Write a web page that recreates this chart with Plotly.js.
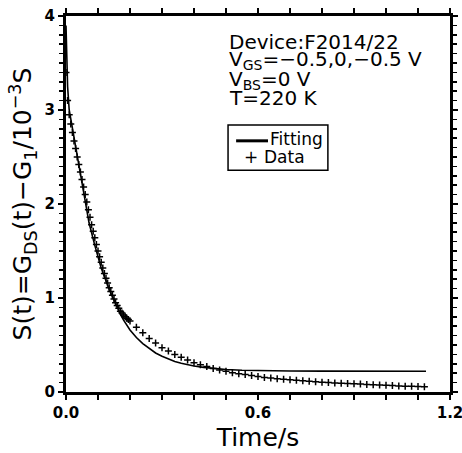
<!DOCTYPE html>
<html>
<head>
<meta charset="utf-8">
<script src="https://cdn.plot.ly/plotly-3.0.1.min.js"></script>
<style>html,body{margin:0;padding:0;background:#fff;}#chart{width:462px;height:453px;}</style>
</head>
<body>
<div id="chart"></div>
<script>
// Fitting curve (time in s, S in 1e-3 S)
const fitTime = [0, 0.002, 0.005, 0.01, 0.016, 0.025, 0.04, 0.055, 0.072, 0.09, 0.11, 0.135, 0.16, 0.17, 0.18, 0.19, 0.20, 0.21, 0.22, 0.24, 0.26, 0.28, 0.30, 0.32, 0.34, 0.36, 0.38, 0.40, 0.43, 0.46, 0.50, 0.55, 0.60, 0.70, 0.80, 1.00, 1.125];
const fitS    = [3.9, 3.6, 3.25, 3.0, 2.88, 2.7, 2.42, 2.12, 1.80, 1.56, 1.32, 1.09, 0.89, 0.825, 0.765, 0.71, 0.66, 0.62, 0.58, 0.515, 0.46, 0.415, 0.38, 0.35, 0.325, 0.305, 0.29, 0.277, 0.262, 0.25, 0.24, 0.232, 0.227, 0.223, 0.222, 0.22, 0.22];

// Measured data
const dataTime = [0, 0.005, 0.01, 0.015, 0.02, 0.025, 0.03, 0.035, 0.04, 0.045, 0.05, 0.055, 0.06, 0.065, 0.07, 0.075, 0.08, 0.085, 0.09, 0.095, 0.10, 0.105, 0.11, 0.115, 0.12, 0.125, 0.13, 0.135, 0.14, 0.145, 0.15, 0.155, 0.16, 0.165, 0.17, 0.175, 0.18, 0.185, 0.19, 0.195, 0.20,
  0.22, 0.24, 0.26, 0.28, 0.30, 0.32, 0.34, 0.36, 0.38, 0.40,
  0.42, 0.44, 0.46, 0.48, 0.50, 0.52, 0.54, 0.56, 0.58, 0.60, 0.62, 0.64, 0.66, 0.68, 0.70, 0.72, 0.74, 0.76, 0.78, 0.80, 0.82, 0.84, 0.86, 0.88, 0.90, 0.92, 0.94, 0.96, 0.98, 1.00, 1.02, 1.04, 1.06, 1.08, 1.10, 1.12];
const dataS = [3.40, 3.10, 2.95, 2.85, 2.76, 2.67, 2.59, 2.50, 2.42, 2.34, 2.26, 2.18, 2.10, 2.02, 1.94, 1.86, 1.78, 1.71, 1.64, 1.57, 1.50, 1.44, 1.38, 1.32, 1.26, 1.21, 1.16, 1.11, 1.07, 1.03, 0.99, 0.95, 0.92, 0.89, 0.86, 0.84, 0.82, 0.80, 0.785, 0.77, 0.755,
  0.69, 0.63, 0.57, 0.52, 0.47, 0.435, 0.40, 0.37, 0.34, 0.31,
  0.29, 0.27, 0.25, 0.235, 0.22, 0.205, 0.195, 0.185, 0.175, 0.165, 0.155, 0.15, 0.14, 0.135, 0.13, 0.125, 0.12, 0.115, 0.11, 0.105, 0.10, 0.097, 0.094, 0.09, 0.087, 0.084, 0.08, 0.077, 0.074, 0.071, 0.068, 0.065, 0.062, 0.06, 0.058, 0.056];

const xTickVals = [0, 0.6, 1.2];
const xTickText = ['0.0', '0.6', '1.2'];
const yTickVals = [0, 1, 2, 3, 4];
const yTickText = ['0', '1', '2', '3', '4'];

const infoLines = ['Device:F2014/22', 'V<sub>GS</sub>=−0.5,0,−0.5 V', 'V<sub>BS</sub>=0 V', 'T=220 K'];
const infoY = [0.931, 0.883, 0.830, 0.782];
const legendNames = ['Fitting', 'Data'];

const FONT = 'DejaVu Sans, Liberation Sans, sans-serif';

const traces = [
  {x: fitTime, y: fitS, mode: 'lines', name: legendNames[0], showlegend: false, line: {color: '#000', width: 1.6}},
  {x: dataTime, y: dataS, mode: 'markers', name: legendNames[1], showlegend: false,
   marker: {symbol: 'cross-thin', size: 5, color: '#000', line: {color: '#000', width: 1.5}}}
];

const axisCommon = {
  showgrid: false, zeroline: false, showline: true, linecolor: '#000', linewidth: 3,
  mirror: 'allticks', ticks: 'outside', ticklen: 5, tickwidth: 2, tickcolor: '#000',
  ticklabeloverflow: 'allow',
  tickfont: {family: FONT, size: 15, color: '#000', weight: 'bold'}
};

// hand-drawn legend box (positions in paper coordinates)
const shapes = [
  {type: 'rect', xref: 'paper', yref: 'paper', x0: 0.422, x1: 0.682, y0: 0.590, y1: 0.710,
   line: {color: '#000', width: 1.5}, fillcolor: '#fff', layer: 'above'},
  {type: 'line', xref: 'paper', yref: 'paper', x0: 0.443, x1: 0.526, y0: 0.668, y1: 0.668,
   line: {color: '#000', width: 3}, layer: 'above'}
];

const annotations = infoLines.map((t, i) => ({
  text: t, xref: 'paper', yref: 'paper', x: 0.42, y: infoY[i], xanchor: 'left', yanchor: 'middle',
  showarrow: false, font: {family: FONT, size: 20, color: '#000'}
}));
annotations.push(
  {text: legendNames[0], xref: 'paper', yref: 'paper', x: 0.527, y: 0.672, xanchor: 'left', yanchor: 'middle',
   showarrow: false, font: {family: FONT, size: 17, color: '#000'}},
  {text: '+', xref: 'paper', yref: 'paper', x: 0.482, y: 0.626, xanchor: 'center', yanchor: 'middle',
   showarrow: false, font: {family: FONT, size: 17, color: '#000'}},
  {text: legendNames[1], xref: 'paper', yref: 'paper', x: 0.510, y: 0.626, xanchor: 'left', yanchor: 'middle',
   showarrow: false, font: {family: FONT, size: 17, color: '#000'}}
);

const layout = {
  width: 462, height: 453,
  margin: {l: 66, r: 12, t: 16, b: 61},
  paper_bgcolor: '#fff', plot_bgcolor: '#fff',
  showlegend: false,
  xaxis: Object.assign({}, axisCommon, {
    range: [0, 1.2], tickvals: xTickVals, ticktext: xTickText,
    minor: {dtick: 0.1, tick0: 0, ticks: 'outside', ticklen: 5, tickwidth: 2, tickcolor: '#000'},
    title: {text: 'Time/s', font: {family: FONT, size: 25, color: '#000'}, standoff: 8}
  }),
  yaxis: Object.assign({}, axisCommon, {
    range: [0, 4], tickvals: yTickVals, ticktext: yTickText,
    minor: {dtick: 0.1, tick0: 0, ticks: 'outside', ticklen: 4, tickwidth: 1.5, tickcolor: '#000'},
    title: {text: 'S(t)=G<sub>DS</sub>(t)−G<sub>1</sub>/10<sup>−3</sup>S', font: {family: FONT, size: 25, color: '#000'}, standoff: 6}
  }),
  shapes: shapes,
  annotations: annotations
};

Plotly.newPlot('chart', traces, layout, {displayModeBar: false, staticPlot: true});
</script>
</body>
</html>
